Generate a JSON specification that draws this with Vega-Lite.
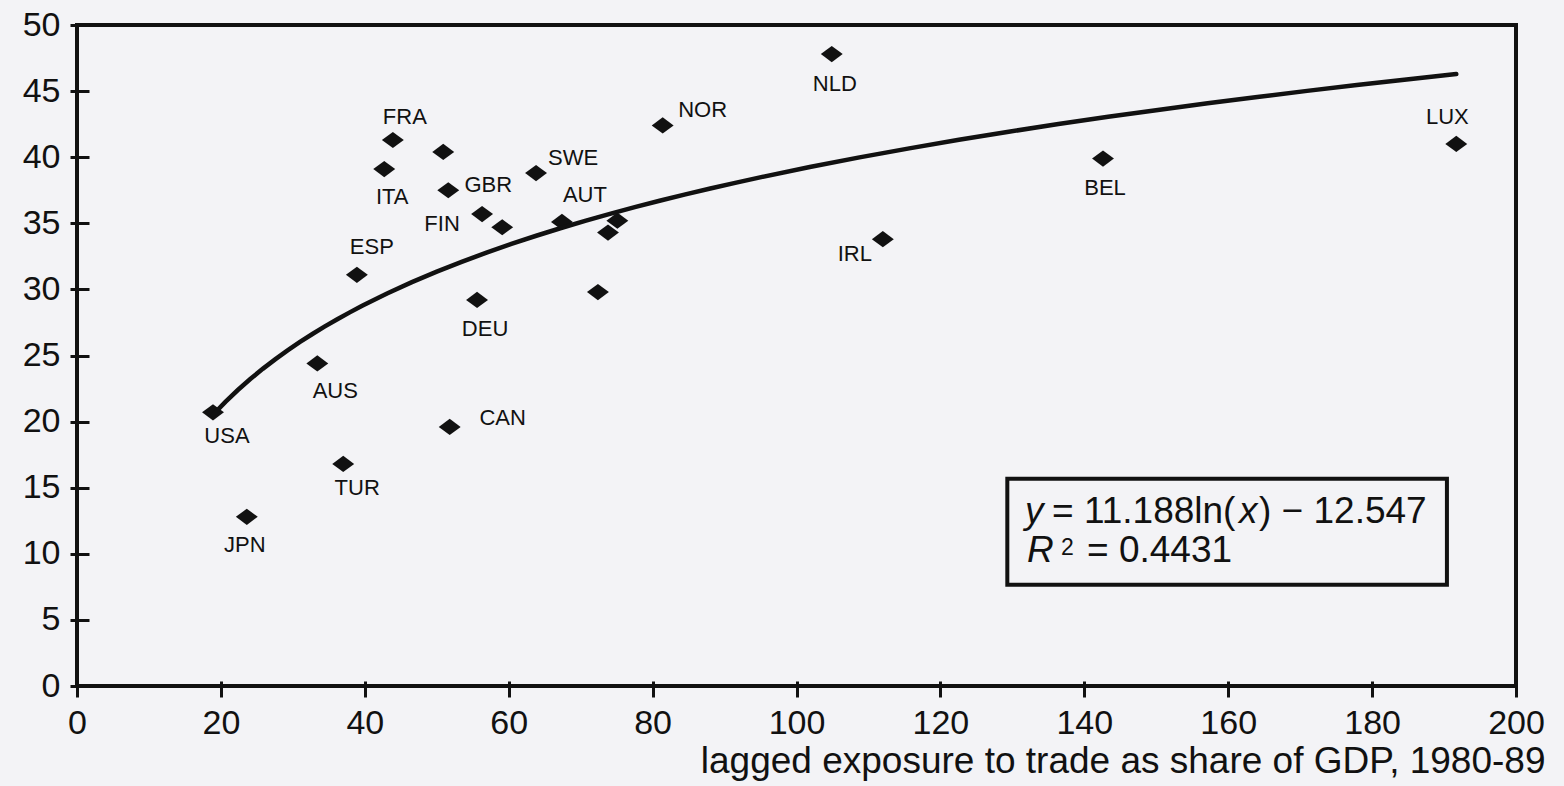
{
  "$schema": "https://vega.github.io/schema/vega-lite/v6.json",
  "width": 1439,
  "height": 661,
  "autosize": "none",
  "padding": {"left": 77, "top": 25, "right": 48, "bottom": 100},
  "background": "#f3f3f6",
  "config": {
    "font": "Liberation Sans",
    "view": {"stroke": "#111", "strokeWidth": 4},
    "axis": {"domain": false, "grid": false, "tickColor": "#111", "tickWidth": 3, "labelColor": "#111", "labelFont": "Liberation Sans", "labelFontSize": 34, "labelFlush": false, "labelOverlap": false},
    "text": {"fill": "#111", "fontSize": 22, "baseline": "middle"}
  },
  "datasets": {
    "countries": [
      {"country": "USA", "exposure": 18.9, "value": 20.7},
      {"country": "JPN", "exposure": 23.6, "value": 12.8},
      {"country": "AUS", "exposure": 33.4, "value": 24.4},
      {"country": "TUR", "exposure": 37.0, "value": 16.8},
      {"country": "ESP", "exposure": 38.9, "value": 31.1},
      {"country": "ITA", "exposure": 42.7, "value": 39.1},
      {"country": "FRA", "exposure": 43.9, "value": 41.3},
      {"country": "", "exposure": 50.9, "value": 40.4},
      {"country": "GBR", "exposure": 51.6, "value": 37.5},
      {"country": "CAN", "exposure": 51.8, "value": 19.6},
      {"country": "DEU", "exposure": 55.6, "value": 29.2},
      {"country": "FIN", "exposure": 56.3, "value": 35.7},
      {"country": "", "exposure": 59.1, "value": 34.7},
      {"country": "SWE", "exposure": 63.8, "value": 38.8},
      {"country": "AUT", "exposure": 67.4, "value": 35.1},
      {"country": "", "exposure": 72.4, "value": 29.8},
      {"country": "", "exposure": 73.8, "value": 34.3},
      {"country": "", "exposure": 75.1, "value": 35.2},
      {"country": "NOR", "exposure": 81.4, "value": 42.4},
      {"country": "NLD", "exposure": 104.9, "value": 47.8},
      {"country": "IRL", "exposure": 112.0, "value": 33.8},
      {"country": "BEL", "exposure": 142.6, "value": 39.9},
      {"country": "LUX", "exposure": 191.7, "value": 41.0}
    ],
    "note": [{"id": 1}]
  },
  "data": {"name": "countries"},
  "layer": [
    {
      "mark": {"type": "point", "shape": "M-1,0L0,-0.74L1,0L0,0.74Z", "filled": true, "fill": "#111", "opacity": 1, "size": 480, "strokeWidth": 0},
      "encoding": {
        "x": {"field": "exposure", "type": "quantitative", "scale": {"domain": [0, 200], "nice": false},
          "axis": {"values": [0, 20, 40, 60, 80, 100, 120, 140, 160, 180, 200], "offset": -5, "tickSize": 16, "labelPadding": 9,
            "title": "lagged exposure to trade as share of GDP, 1980-89", "titleFontSize": 37, "titleFontWeight": "normal", "titleColor": "#111", "titleFont": "Liberation Sans",
            "titleX": 1468, "titleY": 91, "titleAlign": "right", "titleBaseline": "alphabetic", "titleAnchor": "end"}},
        "y": {"field": "value", "type": "quantitative", "scale": {"domain": [0, 50], "nice": false},
          "axis": {"values": [0, 5, 10, 15, 20, 25, 30, 35, 40, 45, 50], "offset": -12, "tickSize": 19, "labelPadding": 10, "title": null}}
      }
    },
    {
      "transform": [{"regression": "value", "on": "exposure", "method": "log"}],
      "mark": {"type": "line", "stroke": "#111", "strokeWidth": 4.5, "strokeCap": "round"},
      "encoding": {
        "x": {"field": "exposure", "type": "quantitative"},
        "y": {"field": "value", "type": "quantitative"}
      }
    },
    {
      "data": {"name": "note"},
      "mark": {"type": "rect", "fillOpacity": 0, "fill": "#ffffff", "stroke": "#111", "strokeWidth": 4},
      "encoding": {
        "x": {"datum": 129.3, "type": "quantitative"},
        "x2": {"datum": 190.4},
        "y": {"datum": 15.67, "type": "quantitative"},
        "y2": {"datum": 7.65}
      }
    },
    {
      "transform": [{"filter": "datum.country !== ''"}],
      "layer": [
        {"transform": [{"filter": "datum.country === 'USA'"}], "mark": {"type": "text", "dx": 14, "dy": 24}, "encoding": {"x": {"field": "exposure", "type": "quantitative"}, "y": {"field": "value", "type": "quantitative"}, "text": {"field": "country"}}},
        {"transform": [{"filter": "datum.country === 'JPN'"}], "mark": {"type": "text", "dx": -2, "dy": 28}, "encoding": {"x": {"field": "exposure", "type": "quantitative"}, "y": {"field": "value", "type": "quantitative"}, "text": {"field": "country"}}},
        {"transform": [{"filter": "datum.country === 'TUR'"}], "mark": {"type": "text", "dx": 14, "dy": 24}, "encoding": {"x": {"field": "exposure", "type": "quantitative"}, "y": {"field": "value", "type": "quantitative"}, "text": {"field": "country"}}},
        {"transform": [{"filter": "datum.country === 'CAN'"}], "mark": {"type": "text", "dx": 53, "dy": -9}, "encoding": {"x": {"field": "exposure", "type": "quantitative"}, "y": {"field": "value", "type": "quantitative"}, "text": {"field": "country"}}},
        {"transform": [{"filter": "datum.country === 'AUS'"}], "mark": {"type": "text", "dx": 18, "dy": 28}, "encoding": {"x": {"field": "exposure", "type": "quantitative"}, "y": {"field": "value", "type": "quantitative"}, "text": {"field": "country"}}},
        {"transform": [{"filter": "datum.country === 'ESP'"}], "mark": {"type": "text", "dx": 15, "dy": -28}, "encoding": {"x": {"field": "exposure", "type": "quantitative"}, "y": {"field": "value", "type": "quantitative"}, "text": {"field": "country"}}},
        {"transform": [{"filter": "datum.country === 'ITA'"}], "mark": {"type": "text", "dx": 8, "dy": 28}, "encoding": {"x": {"field": "exposure", "type": "quantitative"}, "y": {"field": "value", "type": "quantitative"}, "text": {"field": "country"}}},
        {"transform": [{"filter": "datum.country === 'FRA'"}], "mark": {"type": "text", "dx": 12, "dy": -23}, "encoding": {"x": {"field": "exposure", "type": "quantitative"}, "y": {"field": "value", "type": "quantitative"}, "text": {"field": "country"}}},
        {"transform": [{"filter": "datum.country === 'GBR'"}], "mark": {"type": "text", "dx": 40, "dy": -5}, "encoding": {"x": {"field": "exposure", "type": "quantitative"}, "y": {"field": "value", "type": "quantitative"}, "text": {"field": "country"}}},
        {"transform": [{"filter": "datum.country === 'FIN'"}], "mark": {"type": "text", "dx": -40, "dy": 10}, "encoding": {"x": {"field": "exposure", "type": "quantitative"}, "y": {"field": "value", "type": "quantitative"}, "text": {"field": "country"}}},
        {"transform": [{"filter": "datum.country === 'DEU'"}], "mark": {"type": "text", "dx": 8, "dy": 29}, "encoding": {"x": {"field": "exposure", "type": "quantitative"}, "y": {"field": "value", "type": "quantitative"}, "text": {"field": "country"}}},
        {"transform": [{"filter": "datum.country === 'SWE'"}], "mark": {"type": "text", "dx": 37, "dy": -15}, "encoding": {"x": {"field": "exposure", "type": "quantitative"}, "y": {"field": "value", "type": "quantitative"}, "text": {"field": "country"}}},
        {"transform": [{"filter": "datum.country === 'AUT'"}], "mark": {"type": "text", "dx": 23, "dy": -27}, "encoding": {"x": {"field": "exposure", "type": "quantitative"}, "y": {"field": "value", "type": "quantitative"}, "text": {"field": "country"}}},
        {"transform": [{"filter": "datum.country === 'NOR'"}], "mark": {"type": "text", "dx": 40, "dy": -15}, "encoding": {"x": {"field": "exposure", "type": "quantitative"}, "y": {"field": "value", "type": "quantitative"}, "text": {"field": "country"}}},
        {"transform": [{"filter": "datum.country === 'NLD'"}], "mark": {"type": "text", "dx": 3, "dy": 30}, "encoding": {"x": {"field": "exposure", "type": "quantitative"}, "y": {"field": "value", "type": "quantitative"}, "text": {"field": "country"}}},
        {"transform": [{"filter": "datum.country === 'IRL'"}], "mark": {"type": "text", "dx": -28, "dy": 15}, "encoding": {"x": {"field": "exposure", "type": "quantitative"}, "y": {"field": "value", "type": "quantitative"}, "text": {"field": "country"}}},
        {"transform": [{"filter": "datum.country === 'BEL'"}], "mark": {"type": "text", "dx": 2, "dy": 29}, "encoding": {"x": {"field": "exposure", "type": "quantitative"}, "y": {"field": "value", "type": "quantitative"}, "text": {"field": "country"}}},
        {"transform": [{"filter": "datum.country === 'LUX'"}], "mark": {"type": "text", "dx": -9, "dy": -27}, "encoding": {"x": {"field": "exposure", "type": "quantitative"}, "y": {"field": "value", "type": "quantitative"}, "text": {"field": "country"}}}
      ]
    },
    {
      "data": {"name": "note"},
      "mark": {"type": "text", "text": "y", "fontStyle": "italic", "fontSize": 37, "align": "left", "baseline": "alphabetic", "dx": 0},
      "encoding": {"x": {"datum": 131.76, "type": "quantitative"}, "y": {"datum": 12.34, "type": "quantitative"}}
    },
    {
      "data": {"name": "note"},
      "mark": {"type": "text", "text": "= 11.188ln(", "fontSize": 37, "align": "left", "baseline": "alphabetic", "dx": 27},
      "encoding": {"x": {"datum": 131.76, "type": "quantitative"}, "y": {"datum": 12.34, "type": "quantitative"}}
    },
    {
      "data": {"name": "note"},
      "mark": {"type": "text", "text": "x", "fontStyle": "italic", "fontSize": 37, "align": "left", "baseline": "alphabetic", "dx": 214},
      "encoding": {"x": {"datum": 131.76, "type": "quantitative"}, "y": {"datum": 12.34, "type": "quantitative"}}
    },
    {
      "data": {"name": "note"},
      "mark": {"type": "text", "text": ") − 12.547", "fontSize": 37, "align": "left", "baseline": "alphabetic", "dx": 234},
      "encoding": {"x": {"datum": 131.76, "type": "quantitative"}, "y": {"datum": 12.34, "type": "quantitative"}}
    },
    {
      "data": {"name": "note"},
      "mark": {"type": "text", "text": "R", "fontStyle": "italic", "fontSize": 37, "align": "left", "baseline": "alphabetic", "dx": 2},
      "encoding": {"x": {"datum": 131.76, "type": "quantitative"}, "y": {"datum": 9.39, "type": "quantitative"}}
    },
    {
      "data": {"name": "note"},
      "mark": {"type": "text", "text": "2", "fontSize": 23, "align": "left", "baseline": "alphabetic", "dx": 36, "dy": -7},
      "encoding": {"x": {"datum": 131.76, "type": "quantitative"}, "y": {"datum": 9.39, "type": "quantitative"}}
    },
    {
      "data": {"name": "note"},
      "mark": {"type": "text", "text": "= 0.4431", "fontSize": 37, "align": "left", "baseline": "alphabetic", "dx": 62},
      "encoding": {"x": {"datum": 131.76, "type": "quantitative"}, "y": {"datum": 9.39, "type": "quantitative"}}
    }
  ]
}
